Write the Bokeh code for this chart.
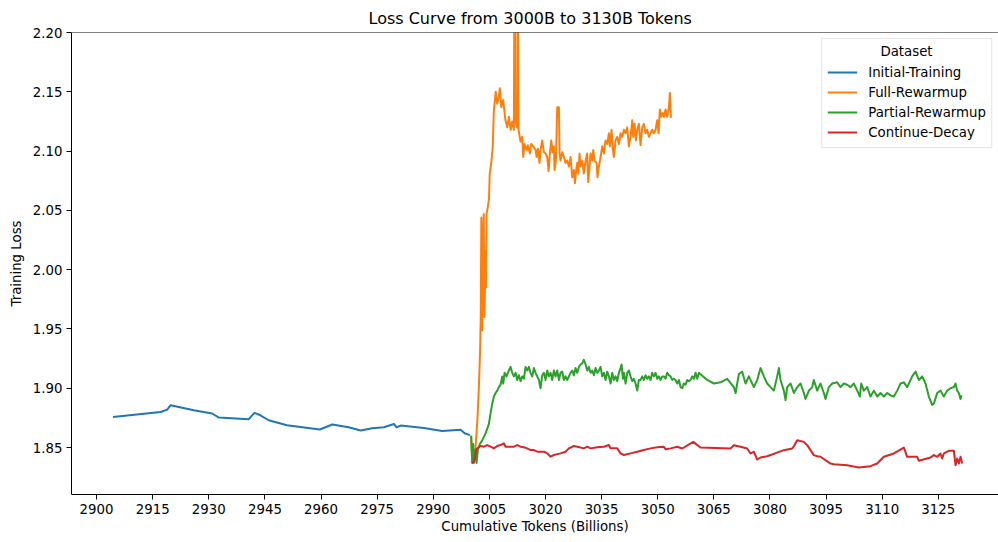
from bokeh.plotting import figure
from bokeh.models import FixedTicker, Span, Range1d, PrintfTickFormatter, Label
from bokeh.embed import file_html
from bokeh.resources import INLINE

# ---------------- data ----------------
x_ticks = [2900, 2915, 2930, 2945, 2960, 2975, 2990, 3005, 3020, 3035, 3050, 3065, 3080, 3095, 3110, 3125]
y_ticks = [1.85, 1.90, 1.95, 2.00, 2.05, 2.10, 2.15, 2.20]

series_names = ["Initial-Training", "Full-Rewarmup", "Partial-Rewarmup", "Continue-Decay"]
series_colors = ["#1f77b4", "#ff7f0e", "#2ca02c", "#d62728"]
legend_title = "Dataset"

initial_tokens = [2904.4, 2917.1, 2918.9, 2919.8, 2926.0, 2930.9, 2932.7, 2940.7, 2942.2, 2943.8,
                  2946.0, 2950.9, 2959.7, 2963.0, 2967.4, 2970.6, 2973.7, 2976.8, 2979.5, 2980.2,
                  2981.3, 2987.5, 2992.4, 2997.3, 2998.4, 2999.8]
initial_loss = [1.8758, 1.8800, 1.8820, 1.8857, 1.8815, 1.8787, 1.8753, 1.8739, 1.8792, 1.8772,
                1.8730, 1.8688, 1.8652, 1.8694, 1.8671, 1.8643, 1.8663, 1.8671, 1.8699, 1.8671,
                1.8685, 1.8665, 1.8640, 1.8650, 1.8620, 1.8605]

full_tokens = [3000.1, 3000.4, 3000.9, 3001.3, 3001.8, 3002.2, 3002.5, 3002.7, 3002.85, 3003.0,
               3003.1, 3003.3, 3003.5, 3003.7, 3003.8, 3004.0, 3004.1, 3004.25, 3004.6, 3004.9,
               3005.1, 3005.5, 3005.9, 3006.2, 3006.7, 3007.1, 3007.55, 3007.8, 3008.2, 3008.7,
               3009.3, 3009.8, 3010.2, 3010.7, 3011.1, 3011.55, 3011.75, 3011.95, 3012.45, 3012.6,
               3012.8,
               3013.34, 3013.79, 3014.05, 3014.41, 3014.95, 3015.30, 3015.84, 3016.19, 3016.73, 3017.35,
               3017.62, 3017.97, 3018.42, 3018.69, 3019.13, 3019.58, 3020.02, 3020.47, 3020.83, 3021.18,
               3021.54, 3021.89, 3022.25, 3022.43, 3022.79, 3023.14, 3023.59, 3023.77, 3024.03, 3024.48,
               3024.92, 3025.37, 3025.82, 3026.26, 3026.71, 3027.15, 3027.60, 3027.87, 3028.22, 3028.49,
               3028.76, 3029.11, 3029.38, 3029.82, 3030.27, 3030.72, 3031.16, 3031.43, 3031.79, 3032.05,
               3032.50, 3032.77, 3033.12, 3033.66, 3033.92, 3034.28, 3034.73, 3035.17, 3035.62, 3036.06,
               3036.51, 3036.95, 3037.22, 3037.67, 3038.02, 3038.29, 3038.74, 3039.18, 3039.63, 3040.07,
               3040.52, 3040.96, 3041.41, 3041.85, 3042.30, 3042.74, 3043.19, 3043.46, 3043.81, 3044.17,
               3044.53, 3044.97, 3045.42, 3045.86, 3046.31, 3046.75, 3047.20, 3047.64, 3048.09, 3048.53,
               3048.98, 3049.43, 3049.87, 3050.23, 3050.58, 3050.94, 3051.30, 3051.65, 3052.10, 3052.54,
               3052.99, 3053.26, 3053.52]
full_loss = [1.860, 1.840, 1.845, 1.850, 1.873, 1.901, 1.929, 1.960, 2.044, 1.975,
             1.949, 2.028, 2.047, 1.960, 1.980, 2.016, 1.985, 2.047, 2.053, 2.060,
             2.081, 2.090, 2.103, 2.134, 2.150, 2.140, 2.146, 2.153, 2.137, 2.143,
             2.126, 2.120, 2.129, 2.118, 2.125, 2.118, 2.289, 2.125, 2.120, 2.285,
             2.118,
             2.108, 2.112, 2.095, 2.106, 2.101, 2.105, 2.098, 2.106, 2.104, 2.101,
             2.095, 2.102, 2.090, 2.101, 2.109, 2.099, 2.098, 2.095, 2.083, 2.098,
             2.109, 2.099, 2.104, 2.084, 2.092, 2.137, 2.137, 2.098, 2.092, 2.099,
             2.095, 2.090, 2.092, 2.087, 2.095, 2.078, 2.084, 2.073, 2.084, 2.090,
             2.081, 2.098, 2.087, 2.092, 2.081, 2.092, 2.098, 2.074, 2.087, 2.098,
             2.092, 2.101, 2.092, 2.090, 2.078, 2.087, 2.095, 2.104, 2.098, 2.109,
             2.106, 2.115, 2.104, 2.118, 2.101, 2.095, 2.109, 2.112, 2.106, 2.115,
             2.112, 2.118, 2.115, 2.120, 2.104, 2.112, 2.126, 2.112, 2.123, 2.109,
             2.118, 2.123, 2.105, 2.120, 2.123, 2.115, 2.118, 2.112, 2.115, 2.118,
             2.115, 2.118, 2.126, 2.115, 2.135, 2.129, 2.132, 2.129, 2.135, 2.129,
             2.137, 2.149, 2.128]

partial_tokens = [3000.15, 3000.42, 3000.68, 3000.86, 3001.22, 3001.57, 3001.93, 3002.46, 3003.09, 3003.98,
                  3004.43, 3004.88, 3005.32, 3005.77, 3006.21, 3006.66, 3007.10, 3007.55, 3007.99, 3008.44,
                  3008.71, 3009.07, 3009.60, 3010.22, 3010.67, 3011.11, 3011.56, 3012.00, 3012.45, 3012.90,
                  3013.34, 3013.79, 3014.23, 3014.68, 3015.12, 3015.57, 3016.02, 3016.46, 3016.91, 3017.35,
                  3017.80, 3018.24, 3018.69, 3019.13, 3019.58, 3020.02, 3020.47, 3020.92, 3021.36, 3021.81,
                  3022.25, 3022.70, 3023.14, 3023.59, 3024.03, 3024.48, 3024.92, 3025.37, 3025.82, 3026.26,
                  3026.71, 3027.15, 3027.60, 3028.04, 3028.49, 3028.93, 3029.38, 3029.82, 3030.27, 3030.72,
                  3031.16, 3031.61, 3032.05, 3032.50, 3032.94, 3033.39, 3033.83, 3034.28, 3034.73, 3035.17,
                  3035.62, 3036.06, 3036.51, 3036.95, 3037.40, 3037.84, 3038.29, 3038.74, 3039.18, 3039.63,
                  3040.07, 3040.34, 3040.70, 3040.96, 3041.41, 3041.85, 3042.30, 3042.74, 3043.19, 3043.63,
                  3044.08, 3044.53, 3044.97, 3045.42, 3045.86, 3046.31, 3046.75, 3047.20, 3047.64, 3048.09,
                  3048.53, 3048.98, 3049.43, 3049.87, 3050.32, 3050.77, 3051.21, 3051.66, 3052.10, 3052.55,
                  3052.99, 3053.44, 3053.88, 3054.33, 3054.77, 3055.22, 3055.67, 3056.11, 3056.56, 3057.00,
                  3057.45, 3057.89, 3058.34, 3058.79, 3059.23, 3059.68, 3060.12, 3060.57, 3061.01,
                  3063.23, 3065.01, 3066.80, 3068.58, 3070.36, 3070.81, 3071.70, 3072.59, 3073.48, 3074.37,
                  3075.71, 3076.60, 3077.49, 3078.38, 3079.27, 3080.16, 3081.05, 3081.94, 3082.39, 3082.83,
                  3083.72, 3084.17, 3084.62, 3085.51, 3086.40, 3087.29, 3088.18, 3089.07, 3089.52, 3090.41,
                  3091.30, 3091.74, 3092.63, 3093.52, 3094.42, 3094.86, 3095.75, 3096.64, 3097.98, 3098.87,
                  3099.76, 3100.65, 3101.54, 3102.43, 3103.33, 3104.04, 3104.40, 3105.11, 3106.00, 3106.89,
                  3107.78, 3108.67, 3109.56, 3110.46, 3111.35, 3112.24, 3113.13, 3114.02, 3114.91, 3115.80,
                  3116.69, 3118.03, 3118.92, 3119.81, 3120.70, 3121.59, 3122.48, 3123.37, 3123.82, 3124.71,
                  3125.60, 3126.49, 3127.38, 3128.27, 3129.17, 3129.61, 3130.06, 3130.50, 3130.95, 3131.22]
partial_loss = [1.860, 1.837, 1.853, 1.837, 1.848, 1.837, 1.848, 1.853, 1.856, 1.862,
                1.866, 1.870, 1.879, 1.887, 1.893, 1.896, 1.898, 1.901, 1.903, 1.910,
                1.904, 1.913, 1.910, 1.915, 1.918, 1.913, 1.910, 1.913, 1.907, 1.911,
                1.906, 1.910, 1.908, 1.918, 1.915, 1.918, 1.913, 1.910, 1.917, 1.913,
                1.910, 1.907, 1.900, 1.911, 1.913, 1.907, 1.915, 1.910, 1.913, 1.907,
                1.915, 1.910, 1.915, 1.907, 1.913, 1.914, 1.907, 1.910, 1.907, 1.910,
                1.913, 1.915, 1.911, 1.917, 1.913, 1.918, 1.920, 1.921, 1.924, 1.920,
                1.915, 1.918, 1.913, 1.915, 1.911, 1.917, 1.913, 1.915, 1.918, 1.910,
                1.913, 1.907, 1.914, 1.910, 1.904, 1.913, 1.907, 1.910, 1.906, 1.913,
                1.917, 1.920, 1.908, 1.913, 1.904, 1.913, 1.915, 1.910, 1.906, 1.908,
                1.904, 1.898, 1.907, 1.907, 1.910, 1.907, 1.911, 1.908, 1.910, 1.907,
                1.913, 1.910, 1.913, 1.908, 1.910, 1.907, 1.910, 1.910, 1.908, 1.913,
                1.911, 1.910, 1.907, 1.908, 1.907, 1.904, 1.907, 1.901, 1.900, 1.904,
                1.903, 1.907, 1.906, 1.907, 1.910, 1.908, 1.913, 1.908, 1.913,
                1.907, 1.904, 1.905, 1.908, 1.901, 1.896, 1.912, 1.914, 1.904, 1.910,
                1.901, 1.907, 1.917, 1.910, 1.904, 1.901, 1.898, 1.910, 1.917, 1.907,
                1.898, 1.890, 1.901, 1.904, 1.896, 1.901, 1.904, 1.896, 1.891, 1.898,
                1.901, 1.907, 1.898, 1.904, 1.896, 1.891, 1.901, 1.904, 1.905, 1.901,
                1.904, 1.903, 1.901, 1.904, 1.898, 1.893, 1.904, 1.898, 1.901, 1.893,
                1.898, 1.893, 1.896, 1.893, 1.896, 1.894, 1.893, 1.898, 1.904, 1.905,
                1.901, 1.910, 1.914, 1.907, 1.910, 1.904, 1.893, 1.886, 1.887, 1.896,
                1.898, 1.893, 1.898, 1.900, 1.901, 1.904, 1.898, 1.896, 1.891, 1.894]

decay_tokens = [3000.3, 3000.9, 3001.6, 3002.65, 3003.54, 3004.43, 3005.32, 3006.21, 3007.10, 3007.99,
                3008.89, 3009.33, 3011.56, 3012.45, 3013.34, 3014.23, 3015.12, 3016.02, 3016.91, 3017.80,
                3019.58, 3020.47, 3021.36, 3022.25, 3024.03, 3025.37, 3026.26, 3027.60, 3028.49, 3030.27,
                3031.16, 3032.05, 3033.83, 3035.62, 3036.95, 3037.40, 3039.18, 3040.07, 3040.96, 3042.74,
                3044.53, 3046.31, 3048.09, 3049.87, 3051.66, 3052.10, 3053.44, 3055.22, 3056.55, 3059.49,
                3061.45, 3069.47, 3070.36, 3072.14, 3073.92, 3074.81, 3075.71, 3076.60, 3077.49, 3079.27,
                3083.72, 3085.95, 3086.40, 3087.29, 3089.07, 3089.96, 3091.74, 3092.63, 3093.52, 3096.20,
                3097.09, 3100.65, 3103.77, 3106.89, 3108.67, 3110.46, 3113.13, 3115.80, 3116.69, 3119.37,
                3119.81, 3122.93, 3123.82, 3124.71, 3125.60, 3126.05, 3126.49, 3127.83, 3129.17, 3129.61,
                3130.06, 3130.50, 3130.95, 3131.40]
decay_loss = [1.837, 1.838, 1.849, 1.8513, 1.8507, 1.8521, 1.8507, 1.8493, 1.8513, 1.8521,
              1.8535, 1.8507, 1.8507, 1.8521, 1.8507, 1.8502, 1.8493, 1.8479, 1.8479, 1.8465,
              1.8465, 1.8451, 1.8423, 1.8437, 1.8451, 1.8465, 1.8493, 1.8513, 1.8507, 1.8493,
              1.8507, 1.8493, 1.8502, 1.8507, 1.8521, 1.8493, 1.8493, 1.8451, 1.8437, 1.8451,
              1.8465, 1.8479, 1.8493, 1.8502, 1.8507, 1.8485, 1.8493, 1.8507, 1.8492, 1.8548,
              1.8500, 1.8492, 1.8520, 1.8506, 1.8492, 1.8450, 1.8464, 1.8399, 1.8416, 1.8427,
              1.8478, 1.8492, 1.8511, 1.8562, 1.8548, 1.8520, 1.8436, 1.8427, 1.8422, 1.8365,
              1.8360, 1.8351, 1.8332, 1.8343, 1.8365, 1.8422, 1.8450, 1.8500, 1.8422, 1.8422,
              1.8388, 1.8416, 1.8436, 1.8422, 1.8450, 1.8408, 1.8450, 1.8472, 1.8472, 1.8351,
              1.8408, 1.8365, 1.8422, 1.8365]

assert len(initial_tokens) == len(initial_loss)
assert len(full_tokens) == len(full_loss), (len(full_tokens), len(full_loss))
assert len(partial_tokens) == len(partial_loss), (len(partial_tokens), len(partial_loss))
assert len(decay_tokens) == len(decay_loss), (len(decay_tokens), len(decay_loss))

series = [(initial_tokens, initial_loss), (full_tokens, full_loss),
          (partial_tokens, partial_loss), (decay_tokens, decay_loss)]

FONT = "DejaVu Sans"

p = figure(width=998, height=542, output_backend="svg", toolbar_location=None,
           x_range=Range1d(2893.3, 3141.1), y_range=Range1d(1.8104, 2.20),
           min_border_left=71, min_border_right=0, min_border_top=32, min_border_bottom=48)
p.outline_line_color = None
p.background_fill_color = "white"
p.border_fill_color = "white"
p.grid.visible = False

p.title.text = "Loss Curve from 3000B to 3130B Tokens"
p.title.align = "left"
p.title.offset = 297
p.title.text_font = FONT
p.title.text_font_size = "16px"
p.title.text_font_style = "normal"
p.title.text_color = "black"
p.title.standoff = 10

for (xs, ys), name, color in zip(series, series_names, series_colors):
    p.line(xs, ys, line_color=color, line_width=2, line_join="round", legend_label=name)

# top spine
p.add_layout(Span(location=p.y_range.end, dimension="width", line_color="black", line_width=1))

p.xaxis.ticker = FixedTicker(ticks=x_ticks)
p.yaxis.ticker = FixedTicker(ticks=y_ticks)
p.yaxis.formatter = PrintfTickFormatter(format="%.2f")
p.xaxis.axis_label = "Cumulative Tokens (Billions)"
p.yaxis.axis_label = "Training Loss"
for ax in (p.xaxis[0], p.yaxis[0]):
    ax.major_tick_out = 5
    ax.major_tick_in = 0
    ax.minor_tick_line_color = None
    ax.major_tick_line_color = "black"
    ax.axis_line_color = "black"
    ax.major_label_text_font = FONT
    ax.major_label_text_font_size = "13.33px"
    ax.major_label_text_color = "black"
    ax.axis_label_text_font = FONT
    ax.axis_label_text_font_size = "13.33px"
    ax.axis_label_text_font_style = "normal"
    ax.axis_label_text_color = "black"
    ax.major_label_standoff = 4
p.xaxis.axis_label_standoff = 2
p.yaxis.axis_label_standoff = 6

lg = p.legend[0]
lg.title = " "          # reserves the title row; the centred title is drawn separately
lg.title_text_font = FONT
lg.title_text_font_size = "13.33px"
lg.title_standoff = 3
lg.location = "top_right"
lg.margin = 6
lg.padding = 5
lg.spacing = 0
lg.glyph_width = 30
lg.glyph_height = 20
lg.label_height = 20
lg.label_standoff = 11
lg.label_text_font = FONT
lg.label_text_font_size = "13.33px"
lg.label_text_color = "black"
lg.border_line_color = "#cccccc"
lg.border_line_width = 1
lg.background_fill_color = None   # nothing is drawn under the legend, keep it transparent

# centred legend title
p.add_layout(Label(x=3116.5, y=2.184, text=legend_title, text_align="center",
                   text_baseline="middle", text_font=FONT, text_font_size="13.33px",
                   text_color="black", level="overlay"))

open("out.html", "w").write(file_html(p, INLINE))
